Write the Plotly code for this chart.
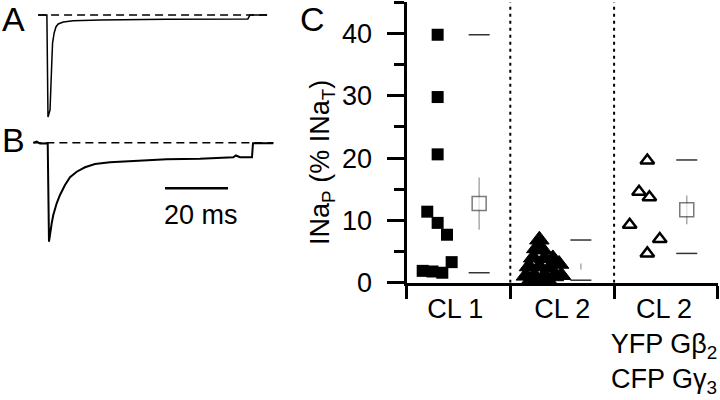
import plotly.graph_objects as go

FONT = "Liberation Sans, Arial, Helvetica, sans-serif"

# ---------------- Panel A / B current traces (time in ms, current in % of peak) ----------------
a_time = [-2.2, 0.3, 0.6, 0.95, 1.6, 2.1, 2.4, 2.9, 3.5, 4.2, 5.8, 9.0, 17.5, 38.6, 64.4, 65.1, 70.5]
a_current = [0, 0, 0, -100, -93, -51, -27.5, -17.6, -11.5, -8.8, -6.9, -5.6, -4.9, -4.2, -3.9, 0, 0]

b_time = [-3.7, -2.6, -1.6, 0.5, 0.86, 1.27, 1.59, 2.13, 2.63, 3.71, 4.76, 6.35, 7.94, 10.06, 12.7,
          15.87, 20.63, 28.03, 38.63, 49.21, 59.78, 60.6, 61.9, 65.71, 66.03, 72.48]
b_current = [0, 1.2, -0.8, 0, -0.6, -100, -91.5, -81.4, -73.0, -61.2, -52.8, -42.7, -34.9, -29.3, -24.8,
             -21.5, -19.8, -18.8, -16.8, -16.2, -14.7, -12.9, -14.7, -14.7, -0.6, -0.6]

a_baseline_t = [-2.2, 70.5]
b_baseline_t = [-3.7, 72.5]
scale_bar_ms = 20
scale_bar_start = 38.1
scale_bar_level = -46

# ---------------- Panel C: INaP (% INaT) ----------------
categories = ["CL 1", "CL 2", "CL 2<br>YFP Gβ<sub>2</sub><br>CFP Gγ<sub>3</sub>"]
label_pos = [0.47, 1.50, 2.48]

cl1_x = [0.30, 0.30, 0.30, 0.20, 0.30, 0.39, 0.435, 0.156, 0.25, 0.345]
cl1_y = [39.8, 29.8, 20.6, 11.4, 9.6, 7.7, 3.3, 1.9, 1.8, 1.6]

cl2_x = [1.28, 1.25, 1.31, 1.22, 1.33, 1.41, 1.18, 1.28, 1.38, 1.47, 1.15, 1.24, 1.33, 1.42, 1.49, 1.20, 1.36, 1.30]
cl2_y = [6.9, 5.5, 5.3, 4.0, 3.9, 3.9, 2.6, 2.6, 2.4, 3.0, 1.1, 1.0, 1.2, 1.0, 1.2, 0.5, 0.4, 0.3]

gb_x = [2.32, 2.24, 2.34, 2.15, 2.44, 2.32]
gb_y = [19.6, 14.6, 13.7, 9.3, 7.0, 4.7]

summary_x = [0.70, 1.68, 2.70]
mean_y = [12.7, 2.6, 11.7]
sem_y = [4.2, 0.5, 2.3]
max_y = [39.8, 6.85, 19.7]
min_y = [1.6, 0.4, 4.7]

fig = go.Figure()

# traces A and B
fig.add_trace(go.Scatter(x=a_baseline_t, y=[0, 0], mode="lines", xaxis="x2", yaxis="y2",
                         line=dict(color="black", width=1.5, dash="8px,5px"), hoverinfo="skip"))
fig.add_trace(go.Scatter(x=a_time, y=a_current, mode="lines", xaxis="x2", yaxis="y2",
                         line=dict(color="black", width=1.5)))
fig.add_trace(go.Scatter(x=b_baseline_t, y=[0, 0], mode="lines", xaxis="x2", yaxis="y3",
                         line=dict(color="black", width=1.5, dash="8px,5px"), hoverinfo="skip"))
fig.add_trace(go.Scatter(x=b_time, y=b_current, mode="lines", xaxis="x2", yaxis="y3",
                         line=dict(color="black", width=2)))
fig.add_trace(go.Scatter(x=[scale_bar_start, scale_bar_start + scale_bar_ms],
                         y=[scale_bar_level, scale_bar_level], mode="lines", xaxis="x2", yaxis="y3",
                         line=dict(color="black", width=2.5)))

# panel C individual cells
fig.add_trace(go.Scatter(x=cl1_x, y=cl1_y, mode="markers", cliponaxis=False,
                         marker=dict(symbol="square", size=12, color="black", line=dict(width=0))))
fig.add_trace(go.Scatter(x=cl2_x, y=cl2_y, mode="markers", cliponaxis=False,
                         marker=dict(symbol="triangle-up", size=17, color="black",
                                     line=dict(width=1, color="black"))))
fig.add_trace(go.Scatter(x=gb_x, y=gb_y, mode="markers", cliponaxis=False,
                         marker=dict(symbol="triangle-up-open", size=12, color="black",
                                     line=dict(width=2.5, color="black"))))

# ranges (max / min dashes)
fig.add_trace(go.Scatter(x=summary_x + summary_x, y=max_y + min_y, mode="markers", cliponaxis=False,
                         marker=dict(symbol="line-ew", size=15, color="#333",
                                     line=dict(width=1.5, color="#333"))))
# means with error bars
mean_symbols = ["square", "square-open", "square"]
mean_sizes = [14, 10, 14]
fig.add_trace(go.Scatter(x=summary_x, y=mean_y, mode="markers", cliponaxis=False,
                         error_y=dict(type="data", array=sem_y, color="#aaaaaa", thickness=1.5, width=0),
                         marker=dict(symbol=mean_symbols, size=mean_sizes, color="white",
                                     line=dict(width=1.5, color="#444"))))

# dotted separators
for xv in [1, 2]:
    fig.add_shape(type="line", xref="x", yref="y", x0=xv, x1=xv, y0=0, y1=45,
                  line=dict(color="black", width=2, dash="3px,4px"), layer="below")

fig.update_layout(
    width=720, height=400, margin=dict(l=0, r=0, t=0, b=0),
    paper_bgcolor="white", plot_bgcolor="white", showlegend=False,
    font=dict(family=FONT, size=27, color="black"),
    xaxis=dict(domain=[406.5 / 720, 717.9 / 720], range=[0, 3], showline=True, linewidth=3,
               linecolor="black", showgrid=False, zeroline=False, automargin=False,
               tickmode="array", tickvals=label_pos, ticktext=categories, ticks="",
               tickfont=dict(size=27, family=FONT),
               minor=dict(tickmode="array", tickvals=[0, 1, 2, 3], ticks="outside", ticklen=13,
                          tickwidth=3, tickcolor="black", showgrid=False)),
    yaxis=dict(domain=[1 - 282.7 / 400, 1 - 2.35 / 400], range=[0, 45], showline=True, linewidth=3,
               linecolor="black", showgrid=False, zeroline=False, automargin=False,
               tickmode="array", tickvals=[0, 10, 20, 30, 40], ticks="outside", ticklen=17,
               tickwidth=3, tickcolor="black", tickfont=dict(size=27, family=FONT),
               ticklabelstandoff=9,
               minor=dict(tickmode="array", tickvals=[5, 15, 25, 35, 45], ticks="outside",
                          ticklen=10, tickwidth=3, tickcolor="black", showgrid=False)),
    xaxis2=dict(domain=[30 / 720, 280 / 720], range=[(30 - 45) / 3.15, (280 - 45) / 3.15],
                visible=False, anchor="y2", automargin=False),
    yaxis2=dict(domain=[1 - 125 / 400, 1 - 5 / 400], range=[-107.84, 9.80], visible=False,
                anchor="x2", automargin=False),
    yaxis3=dict(domain=[1 - 255 / 400, 1 - 130 / 400], range=[-113.43, 12.83], visible=False,
                anchor="x2", automargin=False),
)

annots = [
    dict(text="A", x=13.5 / 720, y=1 - 19 / 400, size=34),
    dict(text="B", x=13.5 / 720, y=1 - 140 / 400, size=34),
    dict(text="C", x=312 / 720, y=1 - 19.5 / 400, size=34),
    dict(text="20 ms", x=200.5 / 720, y=1 - 215 / 400, size=27),
]
for a in annots:
    fig.add_annotation(text=a["text"], x=a["x"], y=a["y"], xref="paper", yref="paper",
                       showarrow=False, xanchor="center", yanchor="middle", borderpad=0,
                       font=dict(family=FONT, size=a["size"], color="black"))
fig.add_annotation(text="INa<sub>P</sub> (% INa<sub>T</sub>)", x=322 / 720, y=1 - 163 / 400,
                   xref="paper", yref="paper", showarrow=False, textangle=-90,
                   xanchor="center", yanchor="middle", font=dict(family=FONT, size=27, color="black"))

fig.write_html("out.html", config={"displayModeBar": False},
               post_script="document.body.style.margin='0';document.body.style.overflow='hidden';")
